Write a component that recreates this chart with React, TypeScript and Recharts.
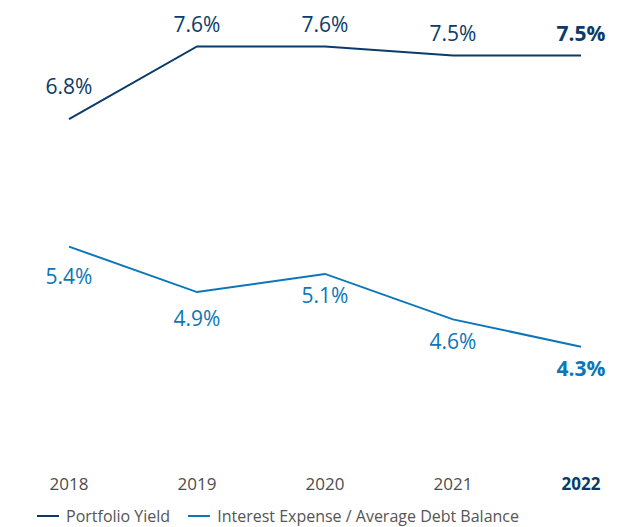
import { LineChart, Line, XAxis, YAxis, Legend } from 'recharts'

const years = ['2018', '2019', '2020', '2021', '2022']
const portfolioYield = [6.8, 7.6, 7.6, 7.5, 7.5]
const interestExpense = [5.4, 4.9, 5.1, 4.6, 4.3]
const seriesNames = ['Portfolio Yield', 'Interest Expense / Average Debt Balance']

const NAVY = '#0b3b68'
const BLUE = '#0c76b8'
const FONT = '"Open Sans", "DejaVu Sans", sans-serif'

const data = years.map((year, i) => ({
  year,
  portfolioYield: portfolioYield[i],
  interestExpense: interestExpense[i],
}))

const lastIndex = years.length - 1

function makeLabel(color: string, above: boolean) {
  return (props: any) => {
    const { x, y, value, index } = props
    let offset = 22
    if (above && index === 0) offset = 33
    if (!above && index === 0) offset = 30
    if (!above && index === 1) offset = 26
    const cy = above ? y - offset : y + offset
    return (
      <text
        x={x}
        y={cy}
        dy="0.36em"
        textAnchor="middle"
        fill={color}
        fontSize={21}
        fontFamily={FONT}
        fontWeight={index === lastIndex ? 700 : 400}
      >
        {`${value.toFixed(1)}%`}
      </text>
    )
  }
}

function YearTick(props: any) {
  const { x, y, payload, index } = props
  const last = index === lastIndex
  return (
    <text
      x={x}
      y={y}
      dy="0.71em"
      textAnchor="middle"
      fill={last ? NAVY : '#4d4d4d'}
      fontSize={17}
      fontFamily={FONT}
      fontWeight={last ? 700 : 400}
    >
      {payload.value}
    </text>
  )
}

function LegendContent(props: any) {
  const items = [...(props.payload || [])].sort(
    (a: any, b: any) => seriesNames.indexOf(a.value) - seriesNames.indexOf(b.value)
  )
  return (
    <div style={{ display: 'flex', gap: 18, fontFamily: FONT, fontSize: 16, color: '#555' }}>
      {items.map((item: any) => (
        <div key={item.value} style={{ display: 'flex', alignItems: 'center', gap: 7 }}>
          <span style={{ display: 'inline-block', width: 22, height: 2, background: item.color }} />
          <span>{item.value}</span>
        </div>
      ))}
    </div>
  )
}

export default function App() {
  return (
    <LineChart
      width={628}
      height={519}
      data={data}
      margin={{ top: 2, right: 55, left: 61, bottom: 0 }}
    >
      <XAxis
        dataKey="year"
        axisLine={false}
        tickLine={false}
        tickSize={6}
        tickMargin={7}
        height={40}
        tick={<YearTick />}
        interval={0}
      />
      <YAxis hide domain={[3, 8]} />
      <Legend
        verticalAlign="bottom"
        align="left"
        content={<LegendContent />}
        wrapperStyle={{ left: 29, top: 497, width: 'auto' }}
      />
      <Line
        dataKey="portfolioYield"
        name={seriesNames[0]}
        stroke={NAVY}
        strokeWidth={2}
        dot={false}
        activeDot={false}
        label={makeLabel(NAVY, true)}
        isAnimationActive={false}
      />
      <Line
        dataKey="interestExpense"
        name={seriesNames[1]}
        stroke={BLUE}
        strokeWidth={2}
        dot={false}
        activeDot={false}
        label={makeLabel(BLUE, false)}
        isAnimationActive={false}
      />
    </LineChart>
  )
}
